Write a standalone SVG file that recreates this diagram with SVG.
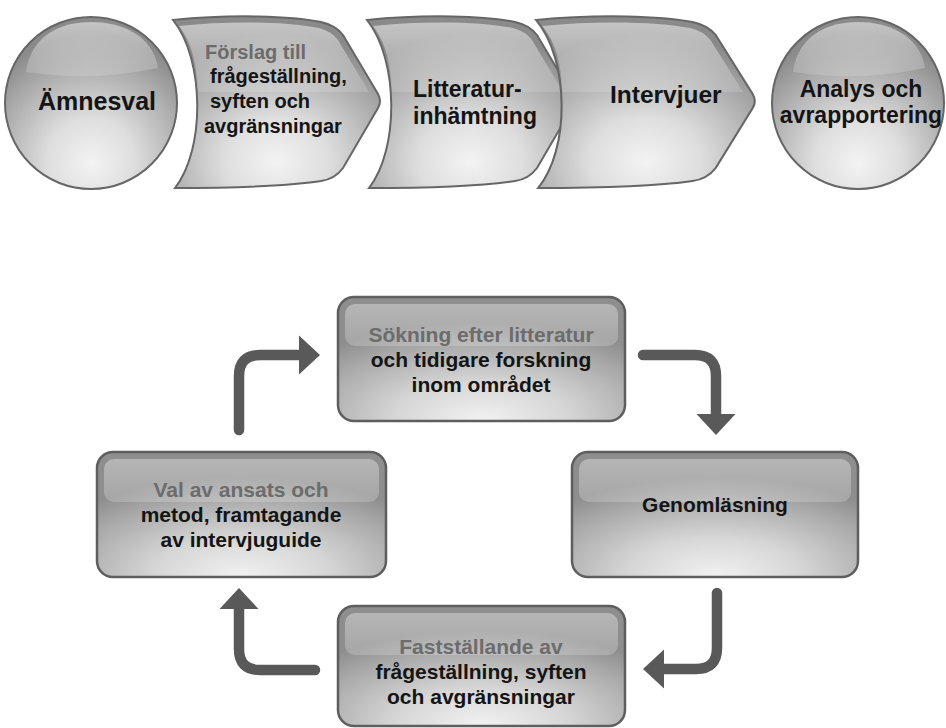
<svg xmlns="http://www.w3.org/2000/svg" xmlns:xlink="http://www.w3.org/1999/xlink" width="946" height="728" viewBox="0 0 946 728">
<style>
  text { font-family: "Liberation Sans", Arial, sans-serif; font-weight: bold; fill: #141414; }
  .dim { fill: #6c6c6c; }
  .t20 { font-size: 20px; }
  .b { font-size: 21px; text-anchor: middle; }
  .shape { fill: url(#gBody); stroke: #666; stroke-width: 2; }
  .box { fill: url(#gBox); stroke: #5e5e5e; stroke-width: 2.5; }
  .band { fill: url(#gBand); }
  .hi { fill: url(#gHi); }
  .arr { fill: none; stroke: #595959; stroke-width: 10.5; stroke-linecap: round; marker-end: url(#head); }
</style>
<defs>
  <radialGradient id="gBody" cx="0.5" cy="0.82" r="0.72" fx="0.5" fy="0.85">
    <stop offset="0" stop-color="#f3f3f3"/>
    <stop offset="0.35" stop-color="#dedede"/>
    <stop offset="0.75" stop-color="#acacac"/>
    <stop offset="1" stop-color="#8a8a8a"/>
  </radialGradient>
  <radialGradient id="gBox" cx="0.5" cy="0.95" r="0.75" fx="0.5" fy="1">
    <stop offset="0" stop-color="#f2f2f2"/>
    <stop offset="0.4" stop-color="#d6d6d6"/>
    <stop offset="0.8" stop-color="#a8a8a8"/>
    <stop offset="1" stop-color="#8e8e8e"/>
  </radialGradient>
  <linearGradient id="gHi" x1="0" y1="0" x2="0" y2="1">
    <stop offset="0" stop-color="#ffffff" stop-opacity="0.5"/>
    <stop offset="1" stop-color="#ffffff" stop-opacity="0.15"/>
  </linearGradient>
  <linearGradient id="gBand" x1="0" y1="0" x2="0" y2="1">
    <stop offset="0" stop-color="#ffffff" stop-opacity="0.35"/>
    <stop offset="1" stop-color="#ffffff" stop-opacity="0.2"/>
  </linearGradient>
  <path id="chev" class="shape" d="M0,20 C60,14 118,16 148,22 Q162,25 170,35 L205,94 Q209,101 205,108 L170,168 Q162,179 148,181 C115,186 60,188 2,188 C32,150 32,60 0,20 Z"/>
  <path id="chevHi" class="hi" d="M6,26 C60,20 118,22 146,28 Q158,31 165,40 L196,92 L25,92 C24,62 18,42 6,26 Z"/>
  <path id="cirHi" class="hi" d="M-65,-31 C-60,-68 -30,-81 0,-81 C30,-81 62,-68 67,-35 Q0,-21 -65,-31 Z"/>
  <marker id="head" markerUnits="userSpaceOnUse" markerWidth="24" markerHeight="42" viewBox="0 -21 24 42" refX="0" refY="0" orient="auto">
    <path d="M0,-19.5 L21,0 L0,19.5 Z" fill="#595959"/>
  </marker>
</defs>

<g id="amnesval">
  <circle class="shape" cx="91" cy="103" r="86"/>
  <use xlink:href="#cirHi" href="#cirHi" transform="translate(91,103)"/>
  <text x="97" y="110" style="font-size:25px" text-anchor="middle">Ämnesval</text>
</g>

<g id="forslag">
  <use xlink:href="#chev" href="#chev" transform="translate(173,0)"/>
  <use xlink:href="#chevHi" href="#chevHi" transform="translate(173,0)"/>
  <text class="t20 dim" x="205" y="59">Förslag till</text>
  <text class="t20" x="210" y="83">frågeställning,</text>
  <text class="t20" x="210" y="108">syften och</text>
  <text class="t20" x="204" y="133">avgränsningar</text>
</g>

<g id="litteratur">
  <use xlink:href="#chev" href="#chev" transform="translate(367,0)"/>
  <use xlink:href="#chevHi" href="#chevHi" transform="translate(367,0)"/>
  <text x="413" y="97" style="font-size:23px">Litteratur-</text>
  <text x="413" y="124" style="font-size:23px">inhämtning</text>
</g>

<g id="intervjuer">
  <use xlink:href="#chev" href="#chev" transform="translate(536,0) scale(1.057,1)"/>
  <use xlink:href="#chevHi" href="#chevHi" transform="translate(536,0) scale(1.057,1)"/>
  <text x="610" y="103" style="font-size:24.5px">Intervjuer</text>
</g>

<g id="analys">
  <circle class="shape" cx="858" cy="103" r="86"/>
  <use xlink:href="#cirHi" href="#cirHi" transform="translate(858,103)"/>
  <text x="861" y="97" style="font-size:23px" text-anchor="middle">Analys och</text>
  <text x="861" y="123" style="font-size:23px" text-anchor="middle">avrapportering</text>
</g>

<g id="sokning">
  <rect class="box" x="338" y="297" width="287" height="124" rx="16"/>
  <rect class="band" x="345" y="304" width="273" height="42" rx="10"/>
  <text class="b dim" x="481" y="342">Sökning efter litteratur</text>
  <text class="b" x="481" y="367">och tidigare forskning</text>
  <text class="b" x="481" y="392">inom området</text>
</g>

<g id="genomlasning">
  <rect class="box" x="572" y="452" width="286" height="125" rx="16"/>
  <rect class="band" x="579" y="459" width="272" height="43" rx="10"/>
  <text class="b" x="715" y="512">Genomläsning</text>
</g>

<g id="faststallande">
  <rect class="box" x="338" y="606" width="287" height="120" rx="16"/>
  <rect class="band" x="345" y="613" width="273" height="42" rx="10"/>
  <text class="b dim" x="481" y="654">Fastställande av</text>
  <text class="b" x="481" y="679">frågeställning, syften</text>
  <text class="b" x="481" y="704">och avgränsningar</text>
</g>

<g id="val">
  <rect class="box" x="97" y="452" width="289" height="125" rx="16"/>
  <rect class="band" x="104" y="459" width="275" height="43" rx="10"/>
  <text class="b dim" x="241" y="497">Val av ansats och</text>
  <text class="b" x="241" y="522">metod, framtagande</text>
  <text class="b" x="241" y="547">av intervjuguide</text>
</g>

<g id="connectors">
  <path class="arr" d="M239,430 L239,376 Q239,355 260,355 L299,355"/>
  <path class="arr" d="M643,355 L695,355 Q716,355 716,376 L716,414"/>
  <path class="arr" d="M717,593 L717,648 Q717,669 696,669 L664,669"/>
  <path class="arr" d="M315,670 L260,670 Q239,670 239,649 L239,609"/>
</g>
</svg>
